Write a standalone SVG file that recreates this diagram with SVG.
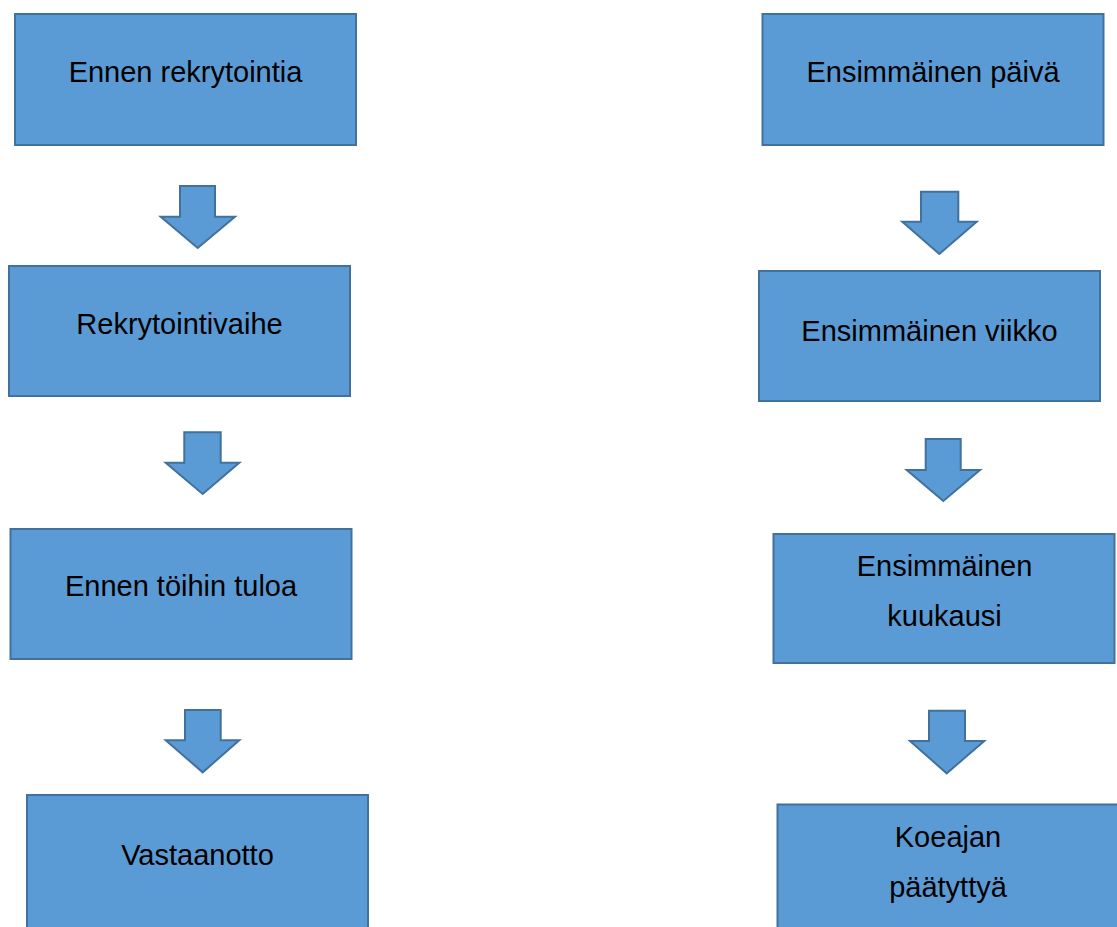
<svg xmlns="http://www.w3.org/2000/svg" width="1117" height="927" viewBox="0 0 1117 927">
  <style>
    .box { fill: #5B9BD5; stroke: #41719C; stroke-width: 2; }
    .arrow { fill: #5B9BD5; stroke: #41719C; stroke-width: 2; stroke-linejoin: miter; }
    .label { font-family: "Liberation Sans", Arial, sans-serif; font-size: 29px; fill: #000; text-anchor: middle; }
  </style>
  <rect width="1117" height="927" fill="#fff"/>

  <!-- left column -->
  <g id="ennen-rekrytointia">
    <rect class="box" x="15" y="14" width="341" height="131"/>
    <text class="label" x="185.5" y="82">Ennen rekrytointia</text>
  </g>
  <g id="rekrytointivaihe">
    <rect class="box" x="9" y="266" width="341" height="130"/>
    <text class="label" x="179.5" y="334">Rekrytointivaihe</text>
  </g>
  <g id="ennen-toihin-tuloa">
    <rect class="box" x="10.5" y="529" width="341" height="130"/>
    <text class="label" x="181" y="596">Ennen töihin tuloa</text>
  </g>
  <g id="vastaanotto">
    <rect class="box" x="27" y="795" width="341" height="140"/>
    <text class="label" x="197.5" y="864.5">Vastaanotto</text>
  </g>

  <!-- right column -->
  <g id="ensimmainen-paiva">
    <rect class="box" x="762.5" y="14" width="341" height="131"/>
    <text class="label" x="933" y="82">Ensimmäinen päivä</text>
  </g>
  <g id="ensimmainen-viikko">
    <rect class="box" x="759" y="271" width="341" height="130"/>
    <text class="label" x="929.5" y="341">Ensimmäinen viikko</text>
  </g>
  <g id="ensimmainen-kuukausi">
    <rect class="box" x="773.5" y="534" width="341" height="129"/>
    <text class="label" x="944.5" y="576">Ensimmäinen</text>
    <text class="label" x="944.5" y="626">kuukausi</text>
  </g>
  <g id="koeajan-paatyttya">
    <rect class="box" x="777.5" y="804.5" width="345" height="140"/>
    <text class="label" x="948" y="846.5">Koeajan</text>
    <text class="label" x="948" y="896.5">päätyttyä</text>
  </g>

  <!-- block arrows between steps -->
  <g id="connectors">
    <polygon class="arrow" points="180,186 215,186 215,216.7 235,216.7 197.7,248 160.7,216.7 180,216.7"/>
    <polygon class="arrow" points="184.3,432.3 220.7,432.3 220.7,462.7 239.3,462.7 202.7,494 165.7,462.7 184.3,462.7"/>
    <polygon class="arrow" points="185,710 220.7,710 220.7,740.3 239.3,740.3 202.7,772.3 165.7,740.3 185,740.3"/>
    <polygon class="arrow" points="921,191.7 958.3,191.7 958.3,221.7 976.7,221.7 939.3,254 902.3,221.7 921,221.7"/>
    <polygon class="arrow" points="925.7,439 960.7,439 960.7,470 980,470 943.3,501 906.7,470 925.7,470"/>
    <polygon class="arrow" points="929,710.7 965,710.7 965,741 984.3,741 946.7,773.3 910,741 929,741"/>
  </g>
</svg>
